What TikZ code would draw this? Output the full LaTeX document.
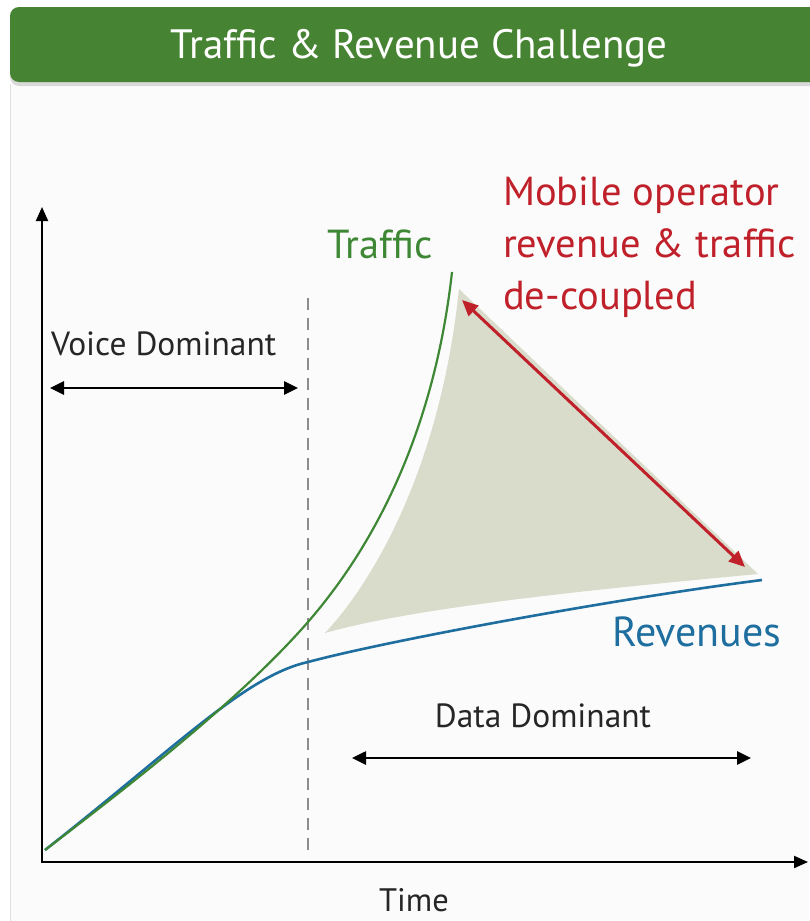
\documentclass[tikz,border=0pt]{standalone}
\usepackage{fontspec}
\setmainfont{PT Sans}
\usetikzlibrary{arrows.meta}
\definecolor{hdrgreen}{RGB}{70,131,50}
\definecolor{trgreen}{RGB}{62,135,52}
\definecolor{revblue}{RGB}{30,110,160}
\definecolor{decred}{RGB}{192,32,42}
\definecolor{gapfill}{RGB}{217,219,203}
\definecolor{bgwhite}{RGB}{251,251,251}
\definecolor{dashgray}{RGB}{140,140,140}
\tikzset{
  lbl/.style={inner sep=0pt, anchor=base, text=black!85},
  axisline/.style={line width=2pt, -{Triangle[length=14pt,width=12pt]}},
  spanarrow/.style={line width=2.6pt, {Triangle[length=14pt,width=13pt]}-{Triangle[length=14pt,width=13pt]}},
}
\begin{document}
\begin{tikzpicture}[x=1pt,y=-1pt]
\useasboundingbox (0,0) rectangle (809,921);
\fill[white] (0,0) rectangle (809,921);
\fill[bgwhite] (10,84) rectangle (809,921);
\draw[black!12, line width=1pt] (10,84) -- (10,921);
% header
\fill[black!15] (10,10) [rounded corners=9pt] -- (10,86) -- (830,86) -- (830,10) -- cycle;
\fill[hdrgreen, rounded corners=9pt] (10,7) rectangle (830,82);
\node[inner sep=0pt, anchor=base, text=white, font=\fontsize{41}{46}\selectfont] (title) at (419,58) {Traffic \& Revenue Challenge};

% coordinates
\coordinate (o) at (45,850);
\coordinate (ybase) at (42,863);
\coordinate (ytip) at (42,207);
\coordinate (xtip) at (808,862);
\coordinate (dtop) at (308,298);
\coordinate (dbot) at (308,851);
\coordinate (vL) at (50,388);
\coordinate (vR) at (298,388);
\coordinate (dL) at (352,758);
\coordinate (dR) at (751,758);
\coordinate (tmid) at (308,622);
\coordinate (tend) at (452,272);
\coordinate (rmid) at (308,662);
\coordinate (rend) at (762,580);
\coordinate (sA) at (325,633);
\coordinate (sB) at (459,289);
\coordinate (sC) at (758,574);
\coordinate (aA) at (462,300);
\coordinate (aB) at (745,567);

% shaded gap
\fill[gapfill] (sA) .. controls (372,583) and (440,470) .. (sB) -- (sC) .. controls (610,588) and (420,606) .. (sA) -- cycle;

% axes
\draw[axisline] (ybase) -- (ytip);
\draw[axisline] (42,862) -- (xtip);

% dashed divider
\draw[dashgray, line width=2pt, dash pattern=on 12pt off 8pt] (dtop) -- (dbot);

% curves
\draw[revblue, line width=2.6pt] (o) .. controls (175,748) and (245,676) .. (rmid) .. controls (390,640) and (620,598) .. (rend);
\draw[trgreen, line width=2.2pt] (o) .. controls (130,785) and (240,700) .. (tmid) .. controls (345,579) and (430,470) .. (tend);

% red arrow
\draw[decred, line width=3pt, {Triangle[length=16pt,width=14pt]}-{Triangle[length=16pt,width=14pt]}] (aA) -- (aB);

% span arrows
\draw[spanarrow] (vL) -- (vR);
\draw[spanarrow] (dL) -- (dR);

% labels
\node[lbl, font=\fontsize{33.5}{38}\selectfont, anchor=base west] (voice) at (51,355) {Voice Dominant};
\node[lbl, font=\fontsize{33.5}{38}\selectfont] (data) at (543,727) {Data Dominant};
\node[lbl, font=\fontsize{32.5}{38}\selectfont] (time) at (414,911) {Time};
\node[inner sep=0pt, anchor=base west, text=trgreen, font=\fontsize{40.5}{44}\selectfont] (traffic) at (327,258) {Traffic};
\node[inner sep=0pt, anchor=base west, text=revblue, font=\fontsize{42}{46}\selectfont] (rev) at (612,646) {Revenues};
\node[inner sep=0pt, anchor=base west, text=decred, font=\fontsize{40.5}{52}\selectfont] (mob) at (503,205) {Mobile operator};
\node[inner sep=0pt, anchor=base west, text=decred, font=\fontsize{40.5}{52}\selectfont] (mob2) at (503,257) {revenue \& traffic};
\node[inner sep=0pt, anchor=base west, text=decred, font=\fontsize{40.5}{52}\selectfont] (mob3) at (503,309) {de-coupled};
\end{tikzpicture}
\end{document}
